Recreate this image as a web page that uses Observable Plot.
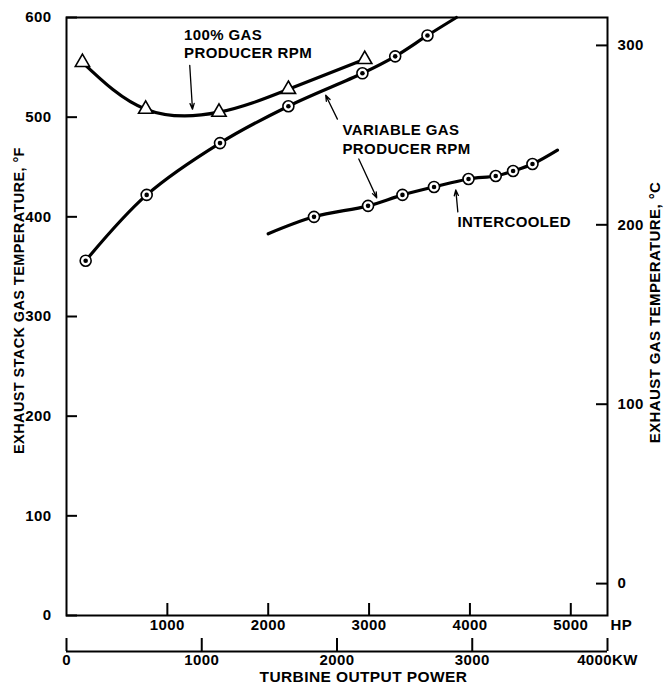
<!DOCTYPE html>
<html>
<head>
<meta charset="utf-8">
<script src="https://cdn.jsdelivr.net/npm/d3@7"></script>
<script src="https://cdn.jsdelivr.net/npm/@observablehq/plot@0.6"></script>
<style>
  html, body { margin: 0; padding: 0; background: #fff; }
  #chart { width: 672px; height: 688px; }
</style>
</head>
<body>
<div id="chart"></div>
<script>
// ---- tick values ----
const hpTicks = [1000, 2000, 3000, 4000, 5000];
const kwTicks = [0, 1000, 2000, 3000, 4000];
const fTicks = [0, 100, 200, 300, 400, 500, 600];
const cTicks = [0, 100, 200, 300];
const HP_PER_KW = 1.341;

// ---- 100% gas producer rpm (triangles) ----
const fullHp = [158, 785, 1512, 2200, 2957];
const fullF  = [555, 508, 505, 528, 558];

// ---- variable gas producer rpm (circles) ----
const varHp = [190, 795, 1522, 2200, 2934, 3259, 3579];
const varF  = [356, 422, 474, 511, 544, 561, 582];
const varEndHp = 3866, varEndF = 600;

// ---- intercooled (circles) ----
const icHp = [2454, 2990, 3331, 3644, 3986, 4256, 4428, 4620];
const icF  = [400, 411, 422, 430, 438, 441, 446, 453];
const icStartHp = 2000, icStartF = 383;
const icEndHp = 4868, icEndF = 467;

// ---- annotations ----
const labelText = ["100% GAS", "PRODUCER RPM", "VARIABLE GAS", "PRODUCER RPM", "INTERCOOLED"];
const labelHp = [1165, 1165, 2736, 2736, 3876];
const labelF  = [582, 564, 487, 468, 395];
const arrowFromHp = [1222, 2686, 2898, 3880];
const arrowFromF  = [552, 498, 458, 405];
const arrowToHp   = [1249, 2570, 3076, 3860];
const arrowToF    = [508, 522, 419, 427];

// ---- build tables ----
const full = fullHp.map((x, i) => ({x, y: fullF[i]}));
const vari = varHp.map((x, i) => ({x, y: varF[i]}));
const varLine = [...vari, {x: varEndHp, y: varEndF}];
const ic = icHp.map((x, i) => ({x, y: icF[i]}));
const icLine = [{x: icStartHp, y: icStartF}, ...ic, {x: icEndHp, y: icEndF}];
const labels = labelText.map((t, i) => ({t, x: labelHp[i], y: labelF[i]}));
const arrows = arrowFromHp.map((x1, i) => ({x1, y1: arrowFromF[i], x2: arrowToHp[i], y2: arrowToF[i]}));
const cAsF = cTicks.map(c => ({c, f: c * 9 / 5 + 32}));
const kw = kwTicks.map(k => ({k, hp: k * HP_PER_KW}));

const W = 672, H = 688, ML = 66, MR = 65, MT = 17, MB = 73;
const FW = W - ML - MR, FH = H - MT - MB;
const font = "'Liberation Sans', Arial, Helvetica, sans-serif";

const chart = Plot.plot({
  width: W, height: H,
  marginLeft: ML, marginRight: MR, marginTop: MT, marginBottom: MB,
  x: {domain: [0, 4000 * HP_PER_KW], axis: null},
  y: {domain: [0, 600], axis: null},
  style: {fontFamily: font, background: "#fff", color: "#000", letterSpacing: "0.4px"},
  marks: [
    Plot.frame({stroke: "#000", strokeWidth: 2}),
    // left axis
    Plot.tickY(fTicks, {y: d => d, insetRight: FW - 11, strokeWidth: 2}),
    Plot.text(fTicks, {y: d => d, frameAnchor: "left", dx: -15, textAnchor: "end", text: d => String(d), fontSize: 15, fontWeight: "bold"}),
    // right axis (°C)
    Plot.tickY(cAsF, {y: "f", insetLeft: FW - 11, strokeWidth: 2}),
    Plot.text(cAsF, {y: "f", frameAnchor: "right", dx: 10, textAnchor: "start", text: d => String(d.c), fontSize: 15, fontWeight: "bold"}),
    // bottom HP axis
    Plot.tickX(hpTicks, {x: d => d, insetTop: FH - 12, strokeWidth: 2}),
    Plot.text(hpTicks, {x: d => d, frameAnchor: "bottom", dy: 14, text: d => String(d), fontSize: 15, fontWeight: "bold"}),
    Plot.text(["HP"], {frameAnchor: "bottom-right", dx: 3, dy: 14, textAnchor: "start", fontSize: 15, fontWeight: "bold"}),
    // KW axis
    Plot.ruleY([0], {dy: 36, strokeWidth: 2}),
    Plot.tickX(kw, {x: "hp", insetTop: FH - 13, dy: 36, strokeWidth: 2}),
    Plot.text(kw, {x: "hp", frameAnchor: "bottom", dy: 49, text: d => d.k === 4000 ? d.k + "KW" : String(d.k), fontSize: 15, fontWeight: "bold"}),
    // axis titles
    Plot.text(["EXHAUST STACK GAS TEMPERATURE, °F"], {frameAnchor: "left", y: () => 316, dx: -47, rotate: -90, textAnchor: "middle", fontSize: 14.5, fontWeight: "bold"}),
    Plot.text(["EXHAUST GAS TEMPERATURE, °C"], {frameAnchor: "right", y: () => 304, dx: 48, rotate: -90, textAnchor: "middle", fontSize: 15, fontWeight: "bold"}),
    Plot.text(["TURBINE OUTPUT POWER"], {frameAnchor: "bottom", x: () => 2944, dy: 66, textAnchor: "middle", fontSize: 15.5, fontWeight: "bold"}),
    // curves
    Plot.line(full, {x: "x", y: "y", curve: "natural", strokeWidth: 3.2}),
    Plot.line(varLine, {x: "x", y: "y", curve: "catmull-rom", strokeWidth: 3.2}),
    Plot.line(icLine, {x: "x", y: "y", curve: "catmull-rom", strokeWidth: 3.2}),
    // markers
    Plot.dot(full, {x: "x", y: "y", symbol: "triangle", r: 5.3, fill: "#fff", stroke: "#000", strokeWidth: 1.6}),
    Plot.dot([...vari, ...ic], {x: "x", y: "y", r: 5.5, fill: "#fff", stroke: "#000", strokeWidth: 1.6}),
    Plot.dot([...vari, ...ic], {x: "x", y: "y", r: 2.3, fill: "#000"}),
    // annotations
    Plot.arrow(arrows, {x1: "x1", y1: "y1", x2: "x2", y2: "y2", stroke: "#000", strokeWidth: 1.3, headLength: 7, headAngle: 40}),
    Plot.text(labels, {x: "x", y: "y", text: "t", textAnchor: "start", fontSize: 15, fontWeight: "bold"})
  ]
});
document.getElementById("chart").appendChild(chart);
</script>
</body>
</html>
